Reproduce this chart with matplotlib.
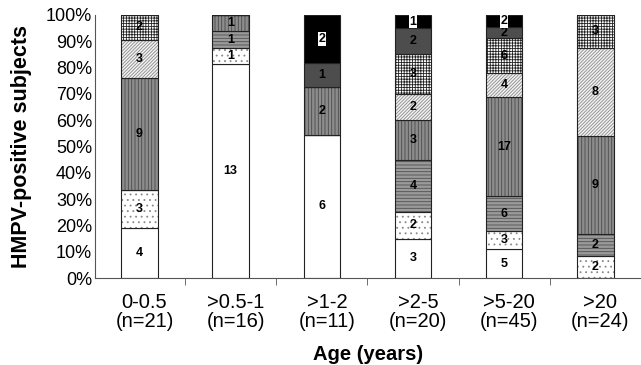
import numpy as np
import matplotlib
matplotlib.use("Agg")
import matplotlib.pyplot as plt
import matplotlib.transforms as mtransforms

plt.rcParams['font.family'] = ['Liberation Sans', 'DejaVu Sans']
plt.rcParams['hatch.linewidth'] = 0.6

# age groups and counts per segment (bottom to top)
groups = ["0-0.5\n(n=21)", ">0.5-1\n(n=16)", ">1-2\n(n=11)",
          ">2-5\n(n=20)", ">5-20\n(n=45)", ">20\n(n=24)"]
open_white = [4, 13, 6, 3, 5, 0]
dotted = [3, 1, 0, 2, 3, 2]
horiz = [0, 1, 0, 4, 6, 2]
vert = [9, 1, 2, 3, 17, 9]
diag = [3, 0, 0, 2, 4, 8]
grid = [2, 0, 0, 3, 6, 3]
dark = [0, 0, 1, 2, 2, 0]
black = [0, 0, 2, 1, 2, 0]

series = [open_white, dotted, horiz, vert, diag, grid, dark, black]
# (face colour, hatch, hatch colour)
styles = [
    ("white", None, "black"),
    ("white", "...", "#888888"),
    ("#9a9a9a", "-----", "#505050"),
    ("#8c8c8c", "|||||", "#4a4a4a"),
    ("#f2f2f2", "//////////", "#8a8a8a"),
    ("white", "++++++", "#222222"),
    ("#4d4d4d", None, "black"),
    ("black", None, "black"),
]

counts = np.array(series, dtype=float)
totals = counts.sum(axis=0)
pct = counts / totals * 100

fig = plt.figure(figsize=(6.41, 3.65), dpi=100)
ax = fig.add_axes([0.148, 0.238, 0.852, 0.721])

x = np.arange(len(groups))
width = 0.4
bottom = np.zeros(len(groups))
for k, (vals, (fc, hatch, hc)) in enumerate(zip(pct, styles)):
    ax.bar(x, vals, width, bottom=bottom, color=fc, hatch=hatch,
           edgecolor=hc, linewidth=0)
    ax.bar(x, vals, width, bottom=bottom, fill=False,
           edgecolor="#222222", linewidth=0.8)
    for i in range(len(groups)):
        if counts[k, i] > 0:
            box = None
            if k == 7:
                box = dict(facecolor="white", edgecolor="none", pad=0.5)
            ax.text(x[i], bottom[i] + vals[i] / 2, str(int(counts[k, i])),
                    ha="center", va="center", fontsize=9, fontweight="bold",
                    bbox=box)
    bottom += vals

ax.set_xlim(-0.49, 5.446)
ax.set_ylim(0, 100)
ax.set_yticks(np.arange(0, 101, 10))
ax.set_yticklabels([f"{v}%" for v in range(0, 101, 10)], fontsize=13)
ax.tick_params(axis="y", length=0, pad=2)
ax.set_xticks(x)
ax.set_xticklabels(groups, fontsize=14.5, linespacing=1.0)
ax.tick_params(axis="x", which="major", length=0, pad=11)
shift = mtransforms.ScaledTranslation(5 / 100, 0, fig.dpi_scale_trans)
for lab in ax.get_xticklabels():
    lab.set_transform(lab.get_transform() + shift)
ax.set_xticks(np.arange(0.5, 6, 1), minor=True)
ax.tick_params(axis="x", which="minor", length=5, direction="out", color="#555555")

for side in ["top", "right"]:
    ax.spines[side].set_visible(False)
ax.spines["left"].set_color("#555555")
ax.spines["bottom"].set_color("#555555")

ax.set_ylabel("HMPV-positive subjects", fontsize=15.5, fontweight="bold", labelpad=10)
ax.set_xlabel("Age (years)", fontsize=14.5, fontweight="bold", labelpad=10)

fig.savefig("out.png", dpi=100)
